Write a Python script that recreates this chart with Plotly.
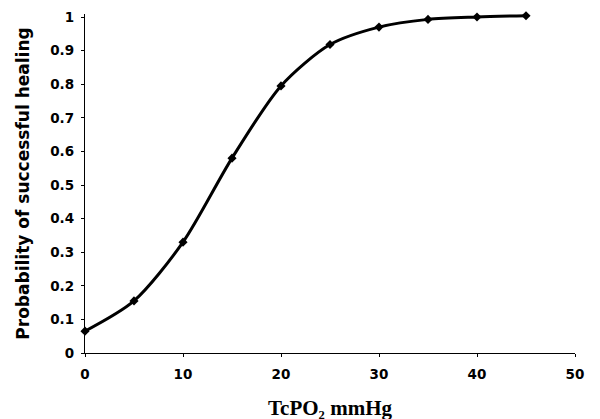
import plotly.graph_objects as go

tcpo2 = [0, 5, 10, 15, 20, 25, 30, 35, 40, 45]
probability = [0.065, 0.155, 0.33, 0.58, 0.795, 0.918, 0.97, 0.993, 1.0, 1.004]
x_ticks = [0, 10, 20, 30, 40, 50]
y_ticks = [0, 0.1, 0.2, 0.3, 0.4, 0.5, 0.6, 0.7, 0.8, 0.9, 1]

fig = go.Figure()
fig.add_trace(go.Scatter(
    x=tcpo2, y=probability, mode="lines+markers",
    line=dict(color="black", width=3, shape="spline", smoothing=0.8),
    marker=dict(symbol="diamond", size=7, color="black"),
    cliponaxis=False, showlegend=False,
))

tickfont = dict(family="DejaVu Sans", size=13.5, weight="bold", color="black")

fig.update_layout(
    width=600, height=419,
    margin=dict(l=77, r=33, t=6, b=74),
    paper_bgcolor="white", plot_bgcolor="white",
    font=dict(family="DejaVu Sans", color="black"),
    xaxis=dict(
        range=[0, 50], tickvals=x_ticks, showgrid=False, zeroline=False,
        showline=True, linecolor="black", linewidth=1.3, automargin=False,
        ticks="outside", ticklen=3, tickcolor="black",
        tickfont=tickfont, ticklabelstandoff=6,
        title=dict(text="TcPO₂ mmHg", font=dict(family="Liberation Serif", size=21, weight="bold"), standoff=18),
    ),
    yaxis=dict(
        range=[0, 1.009], tickvals=y_ticks, showgrid=False, zeroline=False,
        showline=True, linecolor="black", linewidth=1.3, automargin=False,
        ticks="outside", ticklen=3, tickcolor="black",
        tickfont=tickfont, ticklabelstandoff=4,
        title=dict(text="Probability of successful healing", font=dict(family="DejaVu Sans", size=17, weight="bold"), standoff=16),
    ),
)

fig.write_html("out.html")
